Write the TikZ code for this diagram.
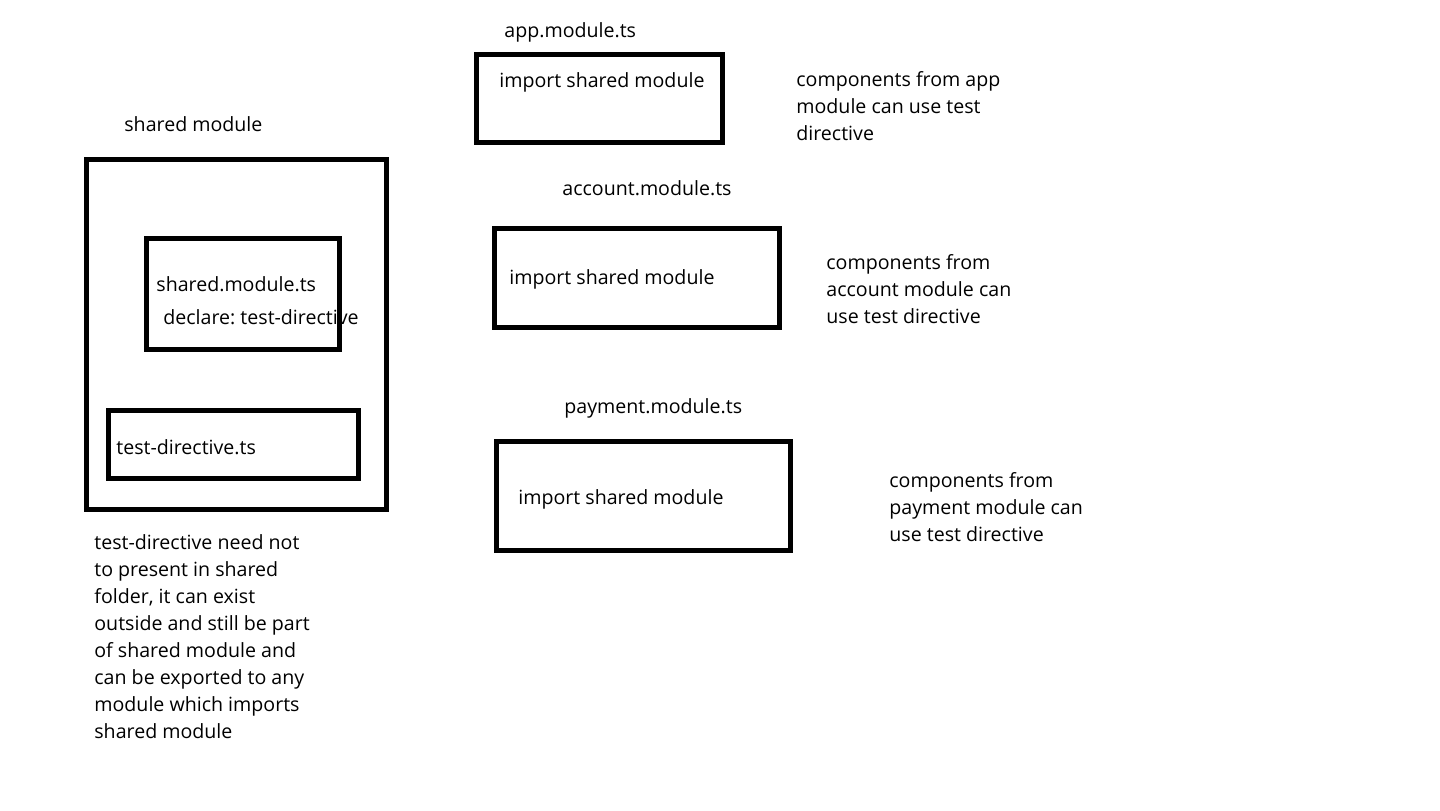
\documentclass[tikz,border=0pt]{standalone}
\usepackage{fontspec}
\setmainfont{Open Sans}
\frenchspacing
\begin{document}
\begin{tikzpicture}[x=0.5pt, y=-0.5pt,
    every node/.style={font=\fontsize{9.8}{13.5}\selectfont, inner sep=0pt, anchor=base west},
    modbox/.style={line width=2.5pt}]
  \useasboundingbox (0,0) rectangle (1440,810);

  % Shared module (base of multi-line nodes = last line)
  \node (sharedlbl) at (124,131) {shared module};
  \draw[modbox] (86.5,159.5) rectangle (386.5,509);
  \draw[modbox] (146,238) rectangle (339,349);
  \node (sharedts) at (156,291) {shared.module.ts};
  \node (declare) at (163,324) {declare: test-directive};
  \draw[modbox] (108,410) rectangle (358,478);
  \node (directivets) at (116,454) {test-directive.ts};
  \node[align=left] (note) at (94,738) {test-directive need not\\to present in shared\\folder, it can exist\\outside and still be part\\of shared module and\\can be exported to any\\module which imports\\shared module};

  % app module
  \node (applbl) at (504,37) {app.module.ts};
  \draw[modbox] (476.5,54.5) rectangle (722.5,142.5);
  \node (appimp) at (499,87) {import shared module};
  \node[align=left] (appuse) at (796,140) {components from app\\module can use test\\directive};

  % account module
  \node (acclbl) at (562,195) {account.module.ts};
  \draw[modbox] (494.5,228.5) rectangle (779.5,327.5);
  \node (accimp) at (509,284) {import shared module};
  \node[align=left] (accuse) at (826,323) {components from\\account module can\\use test directive};

  % payment module
  \node (paylbl) at (564,413) {payment.module.ts};
  \draw[modbox] (496.5,441) rectangle (790.5,550.5);
  \node (payimp) at (518,504) {import shared module};
  \node[align=left] (payuse) at (889,541) {components from\\payment module can\\use test directive};
\end{tikzpicture}
\end{document}
